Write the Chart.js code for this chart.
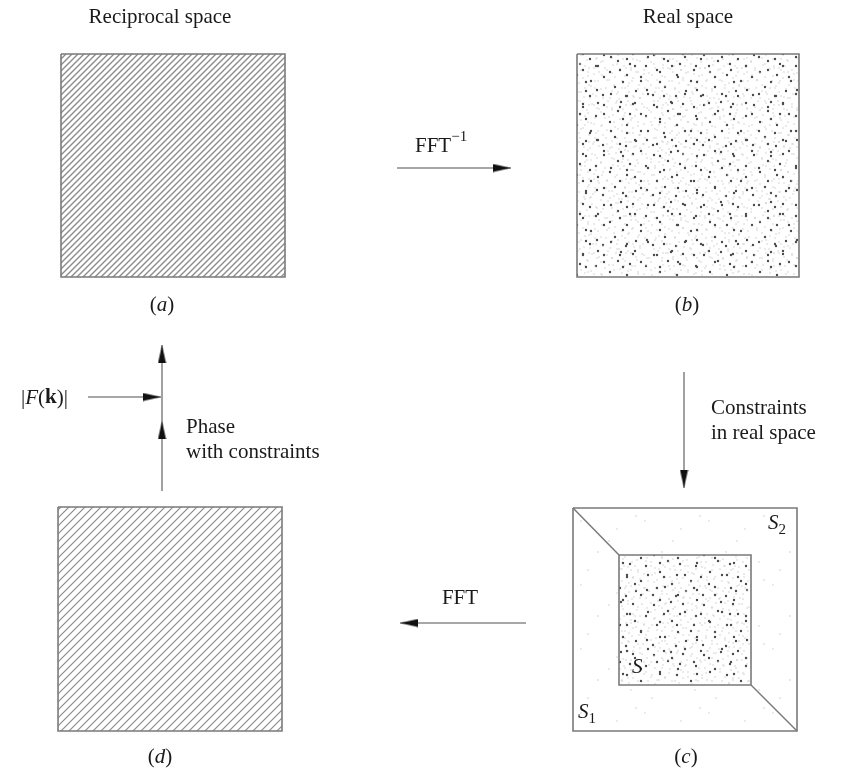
<!DOCTYPE html>
<html>
<head>
<meta charset="utf-8">
<script src="https://cdn.jsdelivr.net/npm/chart.js@4.4.0/dist/chart.umd.min.js"></script>
<style>
  html, body { margin: 0; padding: 0; background: #fff; }
  #wrap { width: 854px; height: 778px; }
</style>
</head>
<body>
<div id="wrap"><canvas id="diagram"></canvas></div>
<script>
// panel boxes: [left, top, right, bottom] in picture units
var boxA = [61, 54, 285, 277];
var boxB = [577, 54, 799, 277];
var boxC = [573, 508, 797, 731];
var boxCInner = [619, 555, 751, 685];
var boxD = [58, 507, 282, 731];

// arrow shafts (from -> to) and heads [x, y, rotation]
var arrowShafts = [
  [[397, 168], [511, 168]],
  [[526, 623], [400, 623]],
  [[684, 372], [684, 488]],
  [[162, 491], [162, 345]],
  [[88, 397], [161, 397]]
];
var arrowHeads = [
  [511, 168, 90],
  [400, 623, 270],
  [684, 488, 180],
  [162, 345, 0],
  [162, 421, 0],
  [161, 397, 90]
];

// (c) corner links between outer and inner square
var cornerLinks = [
  [[573, 508], [619, 555]],
  [[797, 731], [751, 685]]
];

// text runs: [text, style, dy, small]
var titles = ["Reciprocal space", "Real space"];
var panelLetters = ["a", "b", "c", "d"];

var FONT = '"Liberation Serif", "DejaVu Serif", serif';
var textItems = [
  { runs: [[titles[0], "n"]], x: 160, y: 17, align: "center" },
  { runs: [[titles[1], "n"]], x: 688, y: 17, align: "center" },
  { runs: [["(", "n"], [panelLetters[0], "i"], [")", "n"]], x: 162, y: 305, align: "center" },
  { runs: [["(", "n"], [panelLetters[1], "i"], [")", "n"]], x: 687, y: 305, align: "center" },
  { runs: [["(", "n"], [panelLetters[2], "i"], [")", "n"]], x: 686, y: 757, align: "center" },
  { runs: [["(", "n"], [panelLetters[3], "i"], [")", "n"]], x: 160, y: 757, align: "center" },
  { runs: [["FFT", "n"], ["\u22121", "n", -9, true]], x: 415, y: 146, align: "left" },
  { runs: [["FFT", "n"]], x: 460, y: 598, align: "center" },
  { runs: [["|", "n"], ["F", "i"], ["(", "n"], ["k", "b"], [")|", "n"]], x: 21, y: 398, align: "left" },
  { runs: [["Phase", "n"]], x: 186, y: 427, align: "left" },
  { runs: [["with constraints", "n"]], x: 186, y: 452, align: "left" },
  { runs: [["Constraints", "n"]], x: 711, y: 408, align: "left" },
  { runs: [["in real space", "n"]], x: 711, y: 433, align: "left" },
  { runs: [["S", "i"], ["2", "n", 7, true]], x: 768, y: 523, align: "left" },
  { runs: [["S", "i"], ["1", "n", 7, true]], x: 578, y: 712, align: "left" },
  { runs: [["S", "i"]], x: 632, y: 667, align: "left" }
];

// ---- fill textures ----
function hatchTile(size, color, width) {
  var c = document.createElement("canvas");
  c.width = size; c.height = size;
  var g = c.getContext("2d");
  g.fillStyle = "#fff";
  g.fillRect(0, 0, size, size);
  g.strokeStyle = color;
  g.lineWidth = width;
  g.beginPath();
  g.moveTo(0, size); g.lineTo(size, 0);
  g.moveTo(-2, 2); g.lineTo(2, -2);
  g.moveTo(size - 2, size + 2); g.lineTo(size + 2, size - 2);
  g.stroke();
  return g.createPattern(c, "repeat");
}

var darkDots = [[4, 5], [18, 11], [33, 4], [46, 16], [10, 22], [27, 25], [41, 31], [15, 37],
  [3, 45], [26, 46], [36, 41], [30, 14], [21, 2], [47, 40]];
var lightDots = [[1, 12], [7, 30], [8, 1], [12, 8], [13, 15], [6, 38], [10, 48], [15, 27],
  [17, 44], [20, 19], [22, 31], [23, 9], [25, 38], [28, 1], [29, 33], [31, 20], [33, 28],
  [34, 47], [37, 10], [38, 22], [39, 35], [42, 4], [43, 44], [44, 24], [47, 8], [48, 31],
  [2, 25], [19, 49], [12, 41], [35, 16], [24, 16], [45, 38], [5, 18], [40, 48], [29, 42], [16, 3]];
// second layer with a different period, breaks up the repeat
var darkDots2 = [[6, 29], [19, 20], [31, 8], [12, 3], [28, 33], [35, 22]];
var lightDots2 = [[3, 7], [9, 15], [15, 33], [22, 11], [25, 27], [33, 2], [34, 31], [4, 22],
  [17, 6], [26, 18], [11, 24], [30, 14], [20, 36], [36, 12], [7, 35], [2, 31]];
var sparseDots = [[5, 9], [22, 40], [41, 17], [55, 50], [12, 58], [33, 29], [60, 4]];

function stippleTile(size, dark, light, opaque) {
  var c = document.createElement("canvas");
  c.width = size; c.height = size;
  var g = c.getContext("2d");
  if (opaque) { g.fillStyle = "#fff"; g.fillRect(0, 0, size, size); }
  g.fillStyle = "#c4c4c4";
  light.forEach(function (p) { g.beginPath(); g.arc(p[0], p[1], 0.7, 0, Math.PI * 2); g.fill(); });
  g.fillStyle = "#4a4a4a";
  dark.forEach(function (p) { g.beginPath(); g.arc(p[0], p[1], 1.2, 0, Math.PI * 2); g.fill(); });
  return g.createPattern(c, "repeat");
}

function arrowHeadImage() {
  var c = document.createElement("canvas");
  c.width = 9; c.height = 38;
  var g = c.getContext("2d");
  g.fillStyle = "#111";
  g.beginPath();
  g.moveTo(4.5, 19); g.lineTo(0.5, 37); g.lineTo(8.5, 37);
  g.closePath(); g.fill();
  return c;
}

function rectPts(b) {
  return [{ x: b[0], y: b[1] }, { x: b[2], y: b[1] }, { x: b[2], y: b[3] }, { x: b[0], y: b[3] }, { x: b[0], y: b[1] }];
}
function topEdge(b) {
  return [{ x: b[0], y: b[1] }, { x: b[2], y: b[1] }];
}
function seg(s) {
  return [{ x: s[0][0], y: s[0][1] }, { x: s[1][0], y: s[1][1] }];
}

var hatchA = hatchTile(6, "#8c8c8c", 1.4);
var hatchD = hatchTile(8, "#8c8c8c", 1.2);
var stippleDense = stippleTile(50, darkDots, lightDots, true);
var stippleDense2 = stippleTile(37, darkDots2, lightDots2, false);
var stippleSparse = stippleTile(64, [], sparseDots, false);
var headImg = arrowHeadImage();

var EDGE = "#7a7a7a";
var datasets = [];

function fillSet(b, pattern, order) {
  datasets.push({ data: topEdge(b), showLine: true, borderWidth: 0, pointRadius: 0,
    fill: { value: b[3] }, backgroundColor: pattern, order: order });
}
function outlineSet(pts, color, width, order) {
  datasets.push({ data: pts, showLine: true, borderColor: color, borderWidth: width,
    pointRadius: 0, fill: false, order: order });
}

fillSet(boxA, hatchA, 20);
fillSet(boxB, stippleDense, 20);
fillSet(boxB, stippleDense2, 19);
fillSet(boxC, stippleSparse, 21);
fillSet(boxCInner, stippleDense, 20);
fillSet(boxCInner, stippleDense2, 19);
fillSet(boxD, hatchD, 20);

[boxA, boxB, boxC, boxCInner, boxD].forEach(function (b) { outlineSet(rectPts(b), EDGE, 1.6, 5); });
cornerLinks.forEach(function (s) { outlineSet(seg(s), EDGE, 1.5, 5); });
arrowShafts.forEach(function (s) { outlineSet(seg(s), "#8a8a8a", 1.6, 4); });

datasets.push({
  data: arrowHeads.map(function (h) { return { x: h[0], y: h[1] }; }),
  showLine: false,
  pointStyle: headImg,
  pointRadius: 4,
  rotation: arrowHeads.map(function (h) { return h[2]; }),
  order: 1
});

var textPlugin = {
  id: "diagramText",
  afterDatasetsDraw: function (chart) {
    var ctx = chart.ctx, sx = chart.scales.x, sy = chart.scales.y;
    var size = 21;
    ctx.save();
    ctx.fillStyle = "#1a1a1a";
    ctx.textBaseline = "middle";
    ctx.textAlign = "left";
    textItems.forEach(function (item) {
      var fonts = item.runs.map(function (r) {
        var st = r[1] === "i" ? "italic " : (r[1] === "b" ? "bold " : "");
        return st + (r[3] ? Math.round(size * 0.72) : size) + "px " + FONT;
      });
      var total = 0;
      var widths = item.runs.map(function (r, i) {
        ctx.font = fonts[i];
        var w = ctx.measureText(r[0]).width;
        total += w;
        return w;
      });
      var x = sx.getPixelForValue(item.x);
      var y = sy.getPixelForValue(item.y);
      if (item.align === "center") x -= total / 2;
      item.runs.forEach(function (r, i) {
        ctx.font = fonts[i];
        ctx.fillText(r[0], x, y + (r[2] || 0));
        x += widths[i];
      });
    });
    ctx.restore();
  }
};

new Chart(document.getElementById("diagram").getContext("2d"), {
  type: "scatter",
  data: { datasets: datasets },
  options: {
    responsive: true,
    maintainAspectRatio: false,
    animation: false,
    layout: { padding: 0, autoPadding: false },
    elements: { line: { tension: 0 } },
    plugins: { legend: { display: false }, tooltip: { enabled: false } },
    scales: {
      x: { type: "linear", min: 0, max: 854, display: false },
      y: { type: "linear", min: 0, max: 778, reverse: true, display: false }
    }
  },
  plugins: [textPlugin]
});
</script>
</body>
</html>
